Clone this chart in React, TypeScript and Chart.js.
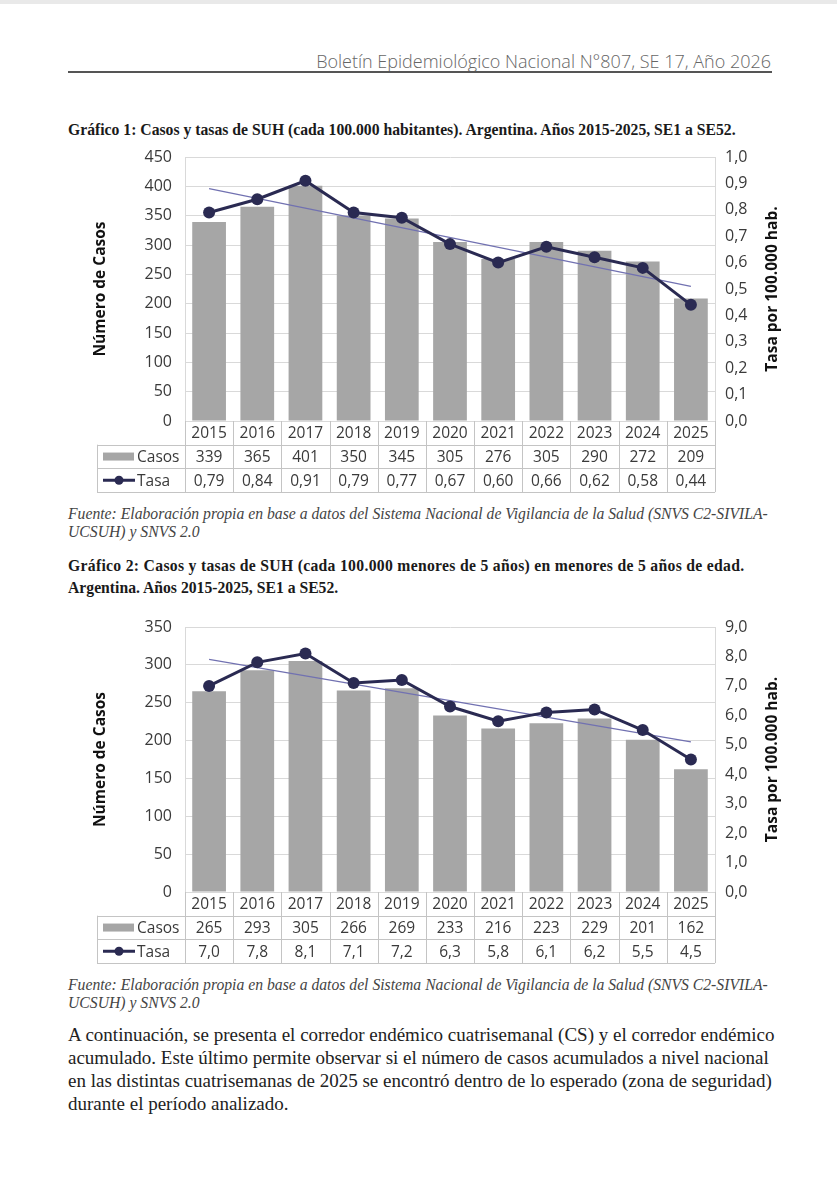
import React, { useEffect, useRef } from 'react';
import { Chart, registerables } from 'chart.js';

Chart.register(...registerables);

// ---------- data ----------
const years = ['2015', '2016', '2017', '2018', '2019', '2020', '2021', '2022', '2023', '2024', '2025'];

const casos1 = [339, 365, 401, 350, 345, 305, 276, 305, 290, 272, 209];
const tasa1 = [0.79, 0.84, 0.91, 0.79, 0.77, 0.67, 0.6, 0.66, 0.62, 0.58, 0.44];
const trend1 = [0.88, null, null, null, null, null, null, null, null, null, 0.51];

const casos2 = [265, 293, 305, 266, 269, 233, 216, 223, 229, 201, 162];
const tasa2 = [7.0, 7.8, 8.1, 7.1, 7.2, 6.3, 5.8, 6.1, 6.2, 5.5, 4.5];
const trend2 = [7.9, null, null, null, null, null, null, null, null, null, 5.1];

const leftAxis1 = { max: 450, step: 50 };
const rightAxis1 = { max: 1.0, step: 0.1 };
const leftAxis2 = { max: 350, step: 50 };
const rightAxis2 = { max: 9, step: 1 };

const leftTitle = 'Número de Casos';
const rightTitle = 'Tasa por 100.000 hab.';
const rowCasos = 'Casos';
const rowTasa = 'Tasa';

// ---------- styles ----------
const FONT = "'Open Sans', 'Noto Sans', sans-serif";
const SERIF = "'Liberation Serif', 'Times New Roman', serif";
const BAR = '#a6a6a6';
const NAVY = '#2a2a52';
const TREND = '#7171b1';
const GRID = '#d9d9d9';
const TABLE_LINE = '#c4c4c4';
const TEXT = '#3a3a3a';

const comma = (v: number, d: number) => v.toFixed(d).replace('.', ',');

function tablePlugin(casos: number[], tasa: number[], tasaDec: number) {
  return {
    id: 'dataTable',
    afterDraw(chart: any) {
      const ctx = chart.ctx as CanvasRenderingContext2D;
      const { left, right, top, bottom } = chart.chartArea;
      const xs = chart.scales.x;
      const n = years.length;
      const w = (right - left) / n;
      const rowH = 23.7;
      const legendLeft = 97;
      const y0 = bottom;
      const y1 = bottom + rowH;
      const y2 = bottom + 2 * rowH;
      const y3 = bottom + 3 * rowH;
      const px = (v: number) => Math.round(v) + 0.5;

      ctx.save();
      ctx.strokeStyle = TABLE_LINE;
      ctx.lineWidth = 1;
      ctx.beginPath();
      ctx.moveTo(legendLeft, px(y1)); ctx.lineTo(right, px(y1));
      ctx.moveTo(legendLeft, px(y2)); ctx.lineTo(right, px(y2));
      ctx.moveTo(legendLeft, px(y3)); ctx.lineTo(right, px(y3));
      ctx.moveTo(px(legendLeft), y1); ctx.lineTo(px(legendLeft), y3);
      for (let i = 0; i <= n; i++) {
        const x = px(left + i * w);
        ctx.moveTo(x, y0); ctx.lineTo(x, y3);
      }
      ctx.stroke();

      ctx.fillStyle = TEXT;
      ctx.font = `15.5px ${FONT}`;
      ctx.textAlign = 'center';
      ctx.textBaseline = 'middle';
      for (let i = 0; i < n; i++) {
        const cx = xs.getPixelForValue(i);
        ctx.fillText(years[i], cx, y0 + rowH / 2 + 1);
        ctx.fillText(String(casos[i]), cx, y1 + rowH / 2 + 1);
        ctx.fillText(comma(tasa[i], tasaDec), cx, y2 + rowH / 2 + 1);
      }

      // legend keys
      const m1 = y1 + rowH / 2;
      const m2 = y2 + rowH / 2;
      ctx.fillStyle = BAR;
      ctx.fillRect(103, m1 - 4, 31, 8);
      ctx.strokeStyle = NAVY;
      ctx.lineWidth = 3;
      ctx.beginPath();
      ctx.moveTo(103, m2); ctx.lineTo(135, m2);
      ctx.stroke();
      ctx.fillStyle = NAVY;
      ctx.beginPath();
      ctx.arc(119, m2, 4.5, 0, Math.PI * 2);
      ctx.fill();
      ctx.fillStyle = TEXT;
      ctx.textAlign = 'left';
      ctx.fillText(rowCasos, 137, m1 + 1);
      ctx.fillText(rowTasa, 137, m2 + 1);

      // right axis title (reads bottom to top)
      ctx.translate(773, (top + bottom) / 2);
      ctx.rotate(-Math.PI / 2);
      ctx.fillStyle = '#111';
      ctx.font = `bold 15.5px ${FONT}`;
      ctx.textAlign = 'center';
      ctx.fillText(rightTitle, 0, 0);
      ctx.restore();
    },
  };
}

type Props = {
  top: number;
  height: number;
  plotTop: number;
  plotBottom: number;
  casos: number[];
  tasa: number[];
  trend: (number | null)[];
  left: { max: number; step: number };
  right: { max: number; step: number };
  tasaDec: number;
};

function DualChart(p: Props) {
  const ref = useRef<HTMLCanvasElement>(null);
  useEffect(() => {
    const padTop = p.plotTop - p.top;
    const padBottom = p.top + p.height - p.plotBottom;
    const chart = new Chart(ref.current as HTMLCanvasElement, {
      type: 'bar',
      data: {
        labels: years,
        datasets: [
          {
            type: 'line',
            label: 'Tasa',
            data: p.tasa,
            yAxisID: 'y2',
            borderColor: NAVY,
            backgroundColor: NAVY,
            borderWidth: 3,
            pointRadius: 6,
            pointHoverRadius: 6,
            pointBorderWidth: 0,
            pointBackgroundColor: NAVY,
            tension: 0,
            order: 1,
          } as any,
          {
            type: 'line',
            label: 'Tendencia',
            data: p.trend,
            yAxisID: 'y2',
            borderColor: TREND,
            borderWidth: 1.2,
            pointRadius: 0,
            spanGaps: true,
            order: 2,
          } as any,
          {
            type: 'bar',
            label: 'Casos',
            data: p.casos,
            yAxisID: 'y',
            backgroundColor: BAR,
            barPercentage: 0.7,
            categoryPercentage: 1,
            order: 3,
          } as any,
        ],
      },
      options: {
        responsive: false,
        animation: false,
        devicePixelRatio: 1,
        layout: { autoPadding: false, padding: { top: padTop, bottom: padBottom, left: 0, right: 0 } },
        plugins: { legend: { display: false }, tooltip: { enabled: false } },
        scales: {
          x: { display: false },
          y: {
            position: 'left',
            min: 0,
            max: p.left.max,
            ticks: { stepSize: p.left.step, padding: 13, color: TEXT, font: { family: FONT, size: 16 } },
            grid: { color: GRID, drawTicks: false },
            border: { color: GRID },
            title: {
              display: true,
              text: leftTitle,
              color: '#111',
              font: { family: FONT, size: 15.5, weight: 'bold' },
              padding: { top: 91, bottom: 0 },
            },
            afterFit: (s: any) => {
              s.width = 185;
              s.paddingTop = 0;
              s.paddingBottom = 0;
            },
          },
          y2: {
            position: 'right',
            min: 0,
            max: p.right.max,
            ticks: {
              stepSize: p.right.step,
              padding: 10,
              color: TEXT,
              font: { family: FONT, size: 16 },
              callback: (v: any) => comma(Number(v), 1),
            },
            grid: { drawOnChartArea: false, drawTicks: false },
            border: { color: GRID },
            afterFit: (s: any) => {
              s.width = 122;
              s.paddingTop = 0;
              s.paddingBottom = 0;
            },
          },
        },
      } as any,
      plugins: [tablePlugin(p.casos, p.tasa, p.tasaDec)],
    });
    // make sure the plot area lands where intended
    const dTop = chart.chartArea.top - padTop;
    const dBot = chart.chartArea.bottom - (p.plotBottom - p.top);
    if (Math.abs(dTop) > 0.2 || Math.abs(dBot) > 0.2) {
      (chart.options as any).layout.padding = { top: padTop - dTop, bottom: padBottom + dBot, left: 0, right: 0 };
      chart.update();
    }
    return () => chart.destroy();
  }, []);
  return (
    <canvas
      ref={ref}
      width={837}
      height={p.height}
      style={{ position: 'absolute', left: 0, top: p.top, width: 837, height: p.height }}
    />
  );
}

const abs = (top: number, extra: React.CSSProperties = {}): React.CSSProperties => ({
  position: 'absolute',
  left: 68,
  top,
  margin: 0,
  whiteSpace: 'nowrap',
  ...extra,
});

export default function App() {
  const titleStyle: React.CSSProperties = { fontFamily: SERIF, fontWeight: 'bold', fontSize: 15.7, color: '#1a1a1a' };
  const noteStyle: React.CSSProperties = { fontFamily: SERIF, fontStyle: 'italic', fontSize: 15.7, lineHeight: '18px', color: '#444' };
  return (
    <div style={{ position: 'absolute', left: 0, top: 0, width: 837, height: 1200, background: '#fff', overflow: 'hidden' }}>
      <div style={{ position: 'absolute', left: 0, top: 0, width: 837, height: 4, background: '#e9e9e9' }} />
      <div
        style={{
          position: 'absolute',
          right: 66,
          top: 50,
          fontFamily: FONT,
          fontWeight: 300,
          fontSize: 18,
          lineHeight: '22px',
          color: '#666',
          whiteSpace: 'nowrap',
        }}
      >
        Boletín Epidemiológico Nacional N°807, SE 17, Año 2026
      </div>
      <div style={{ position: 'absolute', left: 68, top: 71, width: 704, height: 2, background: '#555' }} />

      <div style={abs(120, { ...titleStyle, lineHeight: '20px' })}>
        Gráfico 1: Casos y tasas de SUH (cada 100.000 habitantes). Argentina. Años 2015-2025, SE1 a SE52.
      </div>

      <DualChart
        top={140}
        height={360}
        plotTop={157}
        plotBottom={421}
        casos={casos1}
        tasa={tasa1}
        trend={trend1}
        left={leftAxis1}
        right={rightAxis1}
        tasaDec={2}
      />

      <div style={abs(505, noteStyle)}>
        Fuente: Elaboración propia en base a datos del Sistema Nacional de Vigilancia de la Salud (SNVS C2-SIVILA-
        <br />
        UCSUH) y SNVS 2.0
      </div>

      <div style={abs(555, { ...titleStyle, lineHeight: '22px' })}>
        <span style={{ letterSpacing: '0.3px' }}>
          Gráfico 2: Casos y tasas de SUH (cada 100.000 menores de 5 años) en menores de 5 años de edad.
        </span>
        <br />
        Argentina. Años 2015-2025, SE1 a SE52.
      </div>

      <DualChart
        top={610}
        height={360}
        plotTop={627}
        plotBottom={892}
        casos={casos2}
        tasa={tasa2}
        trend={trend2}
        left={leftAxis2}
        right={rightAxis2}
        tasaDec={1}
      />

      <div style={abs(976, noteStyle)}>
        Fuente: Elaboración propia en base a datos del Sistema Nacional de Vigilancia de la Salud (SNVS C2-SIVILA-
        <br />
        UCSUH) y SNVS 2.0
      </div>

      <div style={abs(1023, { fontFamily: SERIF, fontSize: 19, lineHeight: '23px', color: '#222' })}>
        A continuación, se presenta el corredor endémico cuatrisemanal (CS) y el corredor endémico
        <br />
        acumulado. Este último permite observar si el número de casos acumulados a nivel nacional
        <br />
        en las distintas cuatrisemanas de 2025 se encontró dentro de lo esperado (zona de seguridad)
        <br />
        durante el período analizado.
      </div>
    </div>
  );
}
